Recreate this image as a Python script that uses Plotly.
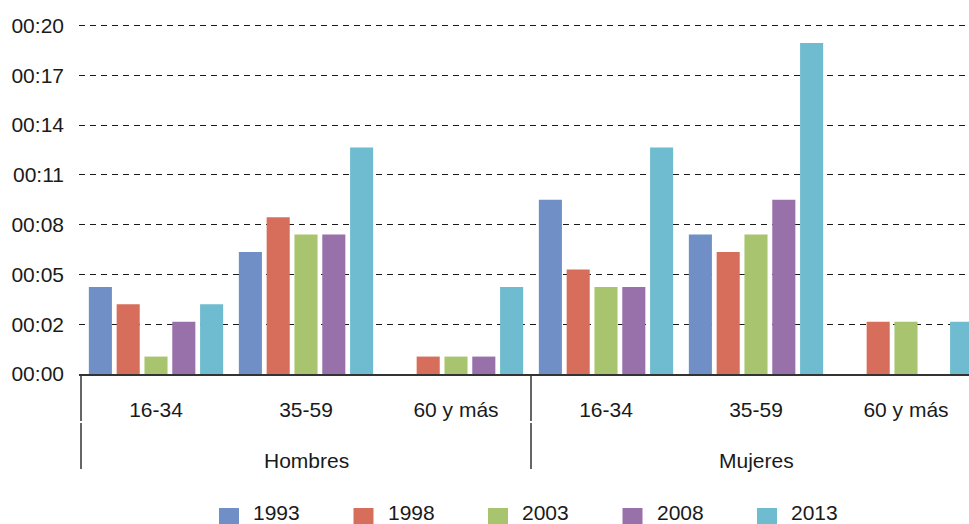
import plotly.graph_objects as go

# Minutes per day, by sex and age group, for each survey year
sexes = ["Hombres", "Mujeres"]
age_groups = ["16-34", "35-59", "60 y más"]
years = ["1993", "1998", "2003", "2008", "2013"]

minutes_1993 = [5, 7, 0, 10, 8, 0]
minutes_1998 = [4, 9, 1, 6, 7, 3]
minutes_2003 = [1, 8, 1, 5, 8, 3]
minutes_2008 = [3, 8, 1, 5, 10, 0]
minutes_2013 = [4, 13, 5, 13, 19, 3]

series = [minutes_1993, minutes_1998, minutes_2003, minutes_2008, minutes_2013]
colors = ["#6F8FC6", "#D76E5B", "#A9C46E", "#9871AB", "#6FBCD0"]

y_tick_labels = ["00:00", "00:02", "00:05", "00:08", "00:11", "00:14", "00:17", "00:20"]
y_max = 20
y_tick_values = [k * y_max / (len(y_tick_labels) - 1) for k in range(len(y_tick_labels))]

FONT = "Liberation Sans, Arial, Helvetica, sans-serif"
TEXT = "#1a1a1a"
FS = 21

W, H = 969, 524
ML, MR, MT, MB = 79, 0, 22, 150
PW, PH = W - ML - MR, H - MT - MB
PX_PER_MIN = 17.425
y_top = PH / PX_PER_MIN  # a little headroom so the top grid line is kept


def px_x(p):
    return (p - ML) / PW


def px_y(p):
    return (H - MB - p) / PH


# one category slot per sex/age pair, 150 px each
slot = 150
x_pos = list(range(len(sexes) * len(age_groups)))
x_left = -0.5 - 2 / slot
x_right = x_left + PW / slot

fig = go.Figure()
for name, vals, col in zip(years, series, colors):
    fig.add_trace(go.Bar(
        x=x_pos, y=vals, name=name,
        marker=dict(color=col, line=dict(width=0)),
        showlegend=False,
        hoverinfo="x+y+name",
    ))

shapes = []
annotations = []

# group dividers under the axis (two stacked segments)
n_age = len(age_groups)
for g in range(len(sexes)):
    xd = g * n_age - 0.5
    for y0, y1 in [(374, 421), (423, 469)]:
        shapes.append(dict(type="line", xref="x", yref="paper",
                           x0=xd, x1=xd, y0=px_y(y0), y1=px_y(y1),
                           line=dict(color="#333333", width=1.5)))
    annotations.append(dict(text=sexes[g], xref="x", yref="paper",
                            x=g * n_age + (n_age - 1) / 2, y=px_y(460),
                            xanchor="center", yanchor="middle", showarrow=False,
                            font=dict(family=FONT, size=FS, color=TEXT)))

# legend row
leg_x0, leg_step = 219, 134.5
for i, (name, col) in enumerate(zip(years, colors)):
    lx = leg_x0 + i * leg_step
    shapes.append(dict(type="rect", xref="paper", yref="paper",
                       x0=px_x(lx), x1=px_x(lx + 20), y0=px_y(508), y1=px_y(528),
                       fillcolor=col, line=dict(width=0)))
    annotations.append(dict(text=name, xref="paper", yref="paper",
                            x=px_x(lx + 32), y=px_y(512),
                            xanchor="left", yanchor="middle", showarrow=False,
                            font=dict(family=FONT, size=FS, color=TEXT)))

fig.update_layout(
    width=W, height=H,
    margin=dict(l=ML, r=MR, t=MT, b=MB, autoexpand=False),
    paper_bgcolor="white", plot_bgcolor="white",
    barmode="group", bargap=0.073, bargroupgap=0.17,
    font=dict(family=FONT, size=FS, color=TEXT),
    shapes=shapes, annotations=annotations,
    showlegend=False,
)

fig.update_xaxes(
    range=[x_left, x_right],
    tickmode="array", tickvals=x_pos, ticktext=age_groups * len(sexes),
    ticks="", showgrid=False, zeroline=False,
    showline=True, linecolor="#333333", linewidth=1.5,
    ticklabelstandoff=16,
    tickfont=dict(family=FONT, size=FS, color=TEXT),
)

fig.update_yaxes(
    range=[0, y_top],
    tickmode="array", tickvals=y_tick_values, ticktext=y_tick_labels,
    ticks="", showline=False, zeroline=False,
    showgrid=True, gridcolor="#1a1a1a", gridwidth=1.3, griddash="6px,5px",
    ticklabelstandoff=14,
    tickfont=dict(family=FONT, size=FS, color=TEXT),
)

fig.write_html("out.html")
